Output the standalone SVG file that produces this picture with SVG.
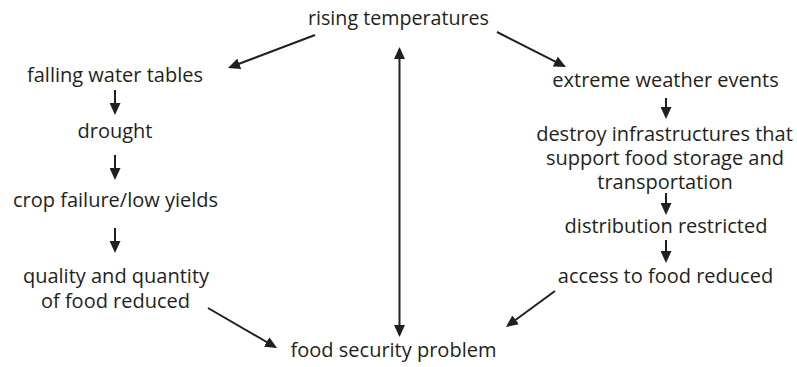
<svg xmlns="http://www.w3.org/2000/svg" width="797" height="367" viewBox="0 0 797 367">
  <defs>
    <marker id="head" viewBox="0 0 12 11" markerUnits="userSpaceOnUse" markerWidth="12" markerHeight="11" refX="10" refY="5.5" orient="auto-start-reverse">
      <path d="M0,0 L12,5.5 L0,11 z" fill="#231f20"/>
    </marker>
    <style>
      text { font-family: "Open Sans", "Noto Sans", sans-serif; font-size: 20px; fill: #231f20; text-anchor: middle; }
      .link { stroke: #231f20; stroke-width: 2; fill: none; marker-end: url(#head); }
      .both { marker-start: url(#head); }
    </style>
  </defs>
  <rect width="797" height="367" fill="#ffffff"/>

  <g id="rising-temperatures"><text x="398.5" y="25" textLength="181" lengthAdjust="spacingAndGlyphs">rising temperatures</text></g>
  <g id="falling-water-tables"><text x="115" y="82">falling water tables</text></g>
  <g id="drought"><text x="115" y="138">drought</text></g>
  <g id="crop-failure"><text x="115.5" y="207">crop failure/low yields</text></g>
  <g id="food-reduced">
    <text x="116" y="283">quality and quantity</text>
    <text x="115.5" y="308">of food reduced</text>
  </g>
  <g id="food-security"><text x="393.5" y="357">food security problem</text></g>
  <g id="extreme-weather"><text x="665.5" y="87">extreme weather events</text></g>
  <g id="destroy-infrastructures">
    <text x="664.5" y="141">destroy infrastructures that</text>
    <text x="665" y="165">support food storage and</text>
    <text x="665" y="189">transportation</text>
  </g>
  <g id="distribution-restricted"><text x="666" y="233">distribution restricted</text></g>
  <g id="access-reduced"><text x="665.5" y="283">access to food reduced</text></g>

  <g id="connectors">
    <line class="link" x1="315" y1="35" x2="229.9" y2="67.3"/>
    <line class="link" x1="497" y1="32" x2="564.2" y2="66.1"/>
    <line class="link both" x1="399.5" y1="49" x2="399.5" y2="335"/>
    <line class="link" x1="115" y1="90" x2="115" y2="113"/>
    <line class="link" x1="115" y1="155" x2="115" y2="178"/>
    <line class="link" x1="115" y1="228" x2="115" y2="251"/>
    <line class="link" x1="208" y1="308" x2="275.3" y2="347"/>
    <line class="link" x1="666" y1="98" x2="666" y2="117"/>
    <line class="link" x1="666" y1="193" x2="666" y2="213"/>
    <line class="link" x1="666" y1="240" x2="666" y2="261"/>
    <line class="link" x1="555" y1="291" x2="507.6" y2="325.8"/>
  </g>
</svg>
